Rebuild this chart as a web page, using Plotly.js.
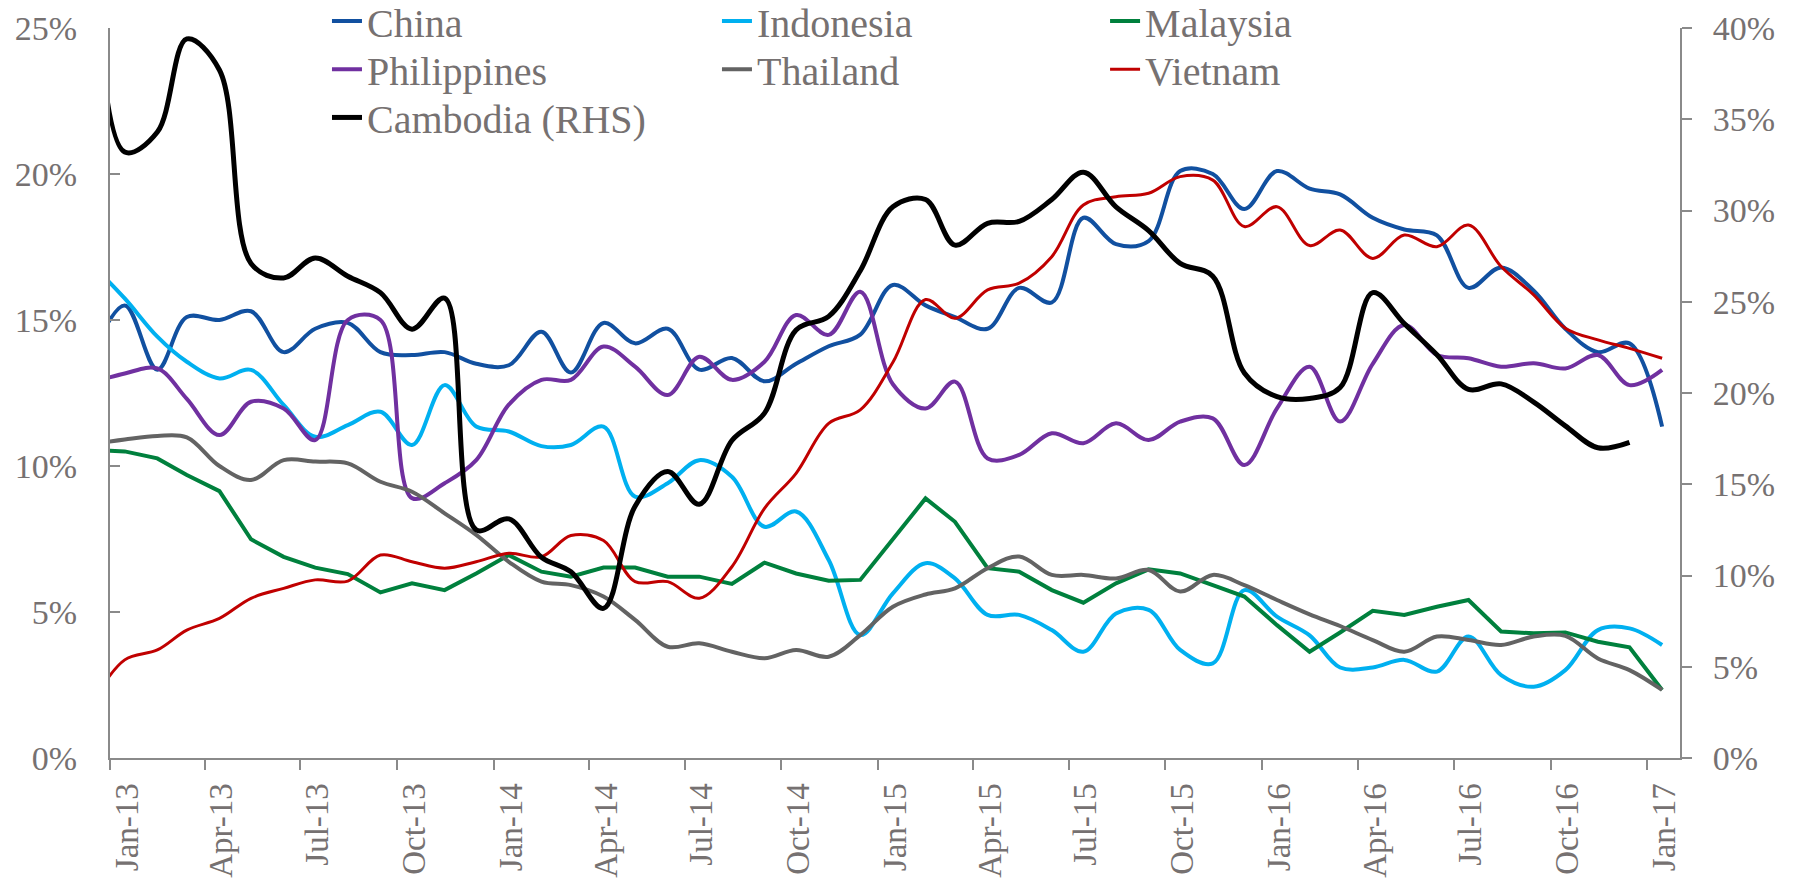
<!DOCTYPE html>
<html>
<head>
<meta charset="utf-8">
<script src="https://cdn.plot.ly/plotly-3.0.1.min.js"></script>
<style>
html,body{margin:0;padding:0;background:#ffffff;}
#chart{width:1793px;height:881px;}
</style>
</head>
<body>
<div id="chart"></div>
<script>
// Monthly observations plotted at mid-month (first one sits just left of the axis start and is clipped)
const months = [
  '2012-12-15',
  '2013-01-15','2013-02-15','2013-03-15','2013-04-15','2013-05-15','2013-06-15',
  '2013-07-15','2013-08-15','2013-09-15','2013-10-15','2013-11-15','2013-12-15',
  '2014-01-15','2014-02-15','2014-03-15','2014-04-15','2014-05-15','2014-06-15',
  '2014-07-15','2014-08-15','2014-09-15','2014-10-15','2014-11-15','2014-12-15',
  '2015-01-15','2015-02-15','2015-03-15','2015-04-15','2015-05-15','2015-06-15',
  '2015-07-15','2015-08-15','2015-09-15','2015-10-15','2015-11-15','2015-12-15',
  '2016-01-15','2016-02-15','2016-03-15','2016-04-15','2016-05-15','2016-06-15',
  '2016-07-15','2016-08-15','2016-09-15','2016-10-15','2016-11-15','2016-12-15',
  '2017-01-15'
];

const china = [13.8, 15.5, 13.3, 15.1, 15.0, 15.3, 13.9, 14.7, 14.9, 13.9, 13.8, 13.9, 13.5,
  13.45, 14.6, 13.2, 14.9, 14.2, 14.7, 13.3, 13.7, 12.9, 13.5, 14.1, 14.5,
  16.2, 15.5, 15.1, 14.7, 16.1, 15.6, 18.5, 17.6, 17.7, 20.1, 20.0, 18.8,
  20.1, 19.5, 19.3, 18.5, 18.1, 17.9, 16.1, 16.8, 16.0, 14.7, 13.9, 14.2,
  11.35];

const indonesia = [16.9, 15.74, 14.43, 13.57, 13.0, 13.29, 12.09, 11.0, 11.4, 11.86, 10.72, 12.77, 11.35,
  11.18, 10.68, 10.72, 11.35, 8.95, 9.41, 10.2, 9.63, 7.92, 8.44, 6.78, 4.21,
  5.64, 6.67, 6.15, 4.9, 4.9, 4.38, 3.64, 4.95, 5.07, 3.7, 3.24, 5.75,
  4.84, 4.2, 3.1, 3.1, 3.36, 2.96, 4.16, 2.84, 2.44, 3.01, 4.38, 4.44,
  3.87];

const malaysia = [10.54, 10.5, 10.26, 9.69, 9.14, 7.49, 6.89, 6.52, 6.3, 5.67, 5.98, 5.75, 6.32,
  6.95, 6.38, 6.21, 6.52, 6.52, 6.21, 6.21, 5.96, 6.69, 6.32, 6.07, 6.1,
  7.47, 8.89, 8.09, 6.5, 6.38, 5.75, 5.32, 5.98, 6.46, 6.32, 5.92, 5.53,
  4.55, 3.64, 4.3, 5.04, 4.9, 5.18, 5.41, 4.33, 4.27, 4.3, 3.98, 3.79,
  2.33];

const philippines = [12.85, 13.17, 13.34, 12.3, 11.06, 12.2, 11.97, 10.89, 15.0, 15.0, 8.9, 9.41, 10.2,
  12.1, 12.95, 12.95, 14.09, 13.4, 12.43, 13.74, 12.95, 13.57, 15.17, 14.49, 15.97,
  12.8, 11.97, 12.89, 10.26, 10.38, 11.12, 10.78, 11.46, 10.89, 11.52, 11.63, 10.03,
  11.97, 13.4, 11.52, 13.5, 14.83, 13.8, 13.69, 13.4, 13.52, 13.34, 13.8, 12.77,
  13.29];

const thailand = [10.75, 10.91, 11.03, 10.98, 10.0, 9.52, 10.2, 10.15, 10.09, 9.46, 9.12, 8.38, 7.64,
  6.72, 6.04, 5.92, 5.53, 4.73, 3.81, 3.93, 3.64, 3.42, 3.7, 3.47, 4.21,
  5.18, 5.6, 5.81, 6.5, 6.9, 6.27, 6.27, 6.15, 6.44, 5.7, 6.27, 5.92,
  5.41, 4.92, 4.52, 4.04, 3.64, 4.16, 4.04, 3.87, 4.16, 4.18, 3.41, 3.01,
  2.33];

const vietnam = [1.9, 3.36, 3.7, 4.38, 4.78, 5.47, 5.81, 6.1, 6.06, 6.95, 6.72, 6.5, 6.72,
  7.01, 6.89, 7.62, 7.45, 6.04, 6.04, 5.47, 6.55, 8.55, 9.75, 11.46, 11.92,
  13.55, 15.7, 15.06, 16.03, 16.26, 17.17, 18.94, 19.22, 19.34, 19.91, 19.79, 18.2,
  18.88, 17.55, 18.08, 17.11, 17.91, 17.51, 18.25, 16.83, 15.86, 14.72, 14.32, 14.03,
  13.69];

// Right-hand axis
const cambodia = [48.0, 33.2, 34.3, 39.4, 37.7, 27.1, 26.3, 27.4, 26.4, 25.5, 23.5, 25.2, 12.5,
  13.1, 11.0, 10.2, 8.2, 13.8, 15.7, 13.9, 17.4, 18.9, 23.45, 24.2, 26.7,
  30.2, 30.6, 28.1, 29.3, 29.4, 30.6, 32.1, 30.2, 28.9, 27.1, 26.4, 21.1,
  19.8, 19.7, 20.3, 25.5, 23.8, 22.1, 20.2, 20.5, 19.5, 18.2, 17.0, 17.3,
  null];

const seriesNames = ['China', 'Indonesia', 'Malaysia', 'Philippines', 'Thailand', 'Vietnam', 'Cambodia (RHS)'];
const leftTicks = [0, 5, 10, 15, 20, 25];
const rightTicks = [0, 5, 10, 15, 20, 25, 30, 35, 40];

const FONT = '"Liberation Serif", "Times New Roman", serif';
const TXT = '#767171';
const AX = '#8a8a8a';

function trace(name, y, color, width, shape, legend, yaxis) {
  return {
    type: 'scatter', mode: 'lines', name: name, x: months, y: y,
    line: {color: color, width: width, shape: shape, smoothing: 1},
    legend: legend, yaxis: yaxis, connectgaps: false, hoverinfo: 'skip'
  };
}

const data = [
  trace(seriesNames[0], china, '#1150a0', 4, 'spline', 'legend', 'y'),
  trace(seriesNames[1], indonesia, '#00b0f0', 4, 'spline', 'legend2', 'y'),
  trace(seriesNames[2], malaysia, '#00803d', 4, 'linear', 'legend3', 'y'),
  trace(seriesNames[3], philippines, '#7030a0', 4, 'spline', 'legend4', 'y'),
  trace(seriesNames[4], thailand, '#636363', 4, 'spline', 'legend5', 'y'),
  trace(seriesNames[5], vietnam, '#c00000', 3, 'spline', 'legend6', 'y'),
  trace(seriesNames[6], cambodia, '#000000', 5, 'spline', 'legend7', 'y2')
];

function leg(x, y) {
  return {
    x: x, y: y, xanchor: 'left', yanchor: 'middle', orientation: 'v',
    bgcolor: 'rgba(0,0,0,0)', borderwidth: 0,
    font: {family: FONT, size: 40, color: TXT}
  };
}

const col = [0.1382, 0.3866, 0.6338];
const row = [1.0096, 0.9435, 0.8775];

const dateAxisCommon = {
  type: 'date',
  range: ['2013-01-01', '2017-02-01'],
  tick0: '2013-01-01',
  dtick: 'M3',
  showgrid: false,
  zeroline: false,
  tickcolor: AX,
  tickwidth: 2,
  ticklen: 10,
  fixedrange: true
};

const layout = {
  width: 1793,
  height: 881,
  paper_bgcolor: '#ffffff',
  plot_bgcolor: '#ffffff',
  margin: {l: 110, r: 113, t: 28, b: 123, autoexpand: false},
  font: {family: FONT, color: TXT},
  showlegend: true,
  legend: leg(col[0], row[0]),
  legend2: leg(col[1], row[0]),
  legend3: leg(col[2], row[0]),
  legend4: leg(col[0], row[1]),
  legend5: leg(col[1], row[1]),
  legend6: leg(col[2], row[1]),
  legend7: leg(col[0], row[2]),
  xaxis: Object.assign({}, dateAxisCommon, {
    ticks: 'outside',
    tickformat: '%b-%y',
    tickangle: -90,
    tickfont: {family: FONT, size: 33, color: TXT},
    ticklabelstandoff: 0,
    ticklabelshift: 17,
    showline: true,
    linecolor: AX,
    linewidth: 2
  }),
  xaxis2: Object.assign({}, dateAxisCommon, {
    overlaying: 'x',
    anchor: 'y',
    side: 'bottom',
    ticks: 'inside',
    showticklabels: false,
    showline: false
  }),
  yaxis: {
    range: [0, 25],
    tickmode: 'array',
    tickvals: leftTicks,
    ticktext: leftTicks.map(v => v + '%'),
    ticks: 'inside',
    ticklen: 10,
    tickwidth: 2,
    tickcolor: AX,
    showline: true,
    linecolor: AX,
    linewidth: 2,
    showgrid: false,
    zeroline: false,
    tickfont: {family: FONT, size: 34, color: TXT},
    ticklabelstandoff: 24,
    fixedrange: true
  },
  yaxis2: {
    overlaying: 'y',
    side: 'right',
    anchor: 'x',
    range: [0, 40],
    tickmode: 'array',
    tickvals: rightTicks,
    ticktext: rightTicks.map(v => v + '%'),
    ticks: 'outside',
    ticklen: 10,
    tickwidth: 2,
    tickcolor: AX,
    showline: true,
    linecolor: AX,
    linewidth: 2,
    showgrid: false,
    zeroline: false,
    tickfont: {family: FONT, size: 34, color: TXT},
    ticklabelstandoff: 14,
    fixedrange: true
  }
};

Plotly.newPlot('chart', data, layout, {displayModeBar: false, staticPlot: true});
</script>
</body>
</html>
